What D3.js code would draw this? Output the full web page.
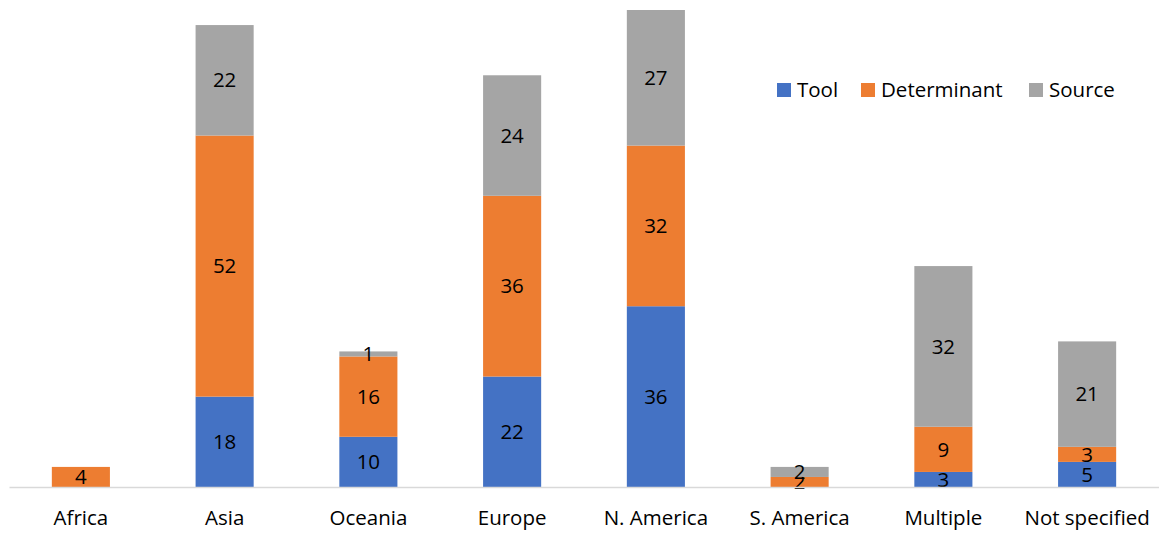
<!DOCTYPE html>
<html>
<head>
<meta charset="utf-8">
<script src="https://cdn.jsdelivr.net/npm/d3@7"></script>
<style>
  html, body { margin: 0; padding: 0; background: #fff; }
  svg { display: block; font-family: "Open Sans", Lato, "Liberation Sans", sans-serif; }
</style>
</head>
<body>
<svg id="chart" width="1159" height="535"></svg>
<script>
// Regions and counts per category
const regions = ["Africa", "Asia", "Oceania", "Europe", "N. America", "S. America", "Multiple", "Not specified"];
const seriesNames = ["Tool", "Determinant", "Source"];
const tool        = [0, 18, 10, 22, 36, 0, 3, 5];
const determinant = [4, 52, 16, 36, 32, 2, 9, 3];
const source      = [0, 22, 1, 24, 27, 2, 32, 21];
const colors = ["#4472C4", "#ED7D31", "#A5A5A5"];

const svg = d3.select("#chart");
const W = 1159;
const baseY = 487;
const fontSize = 20.5;

const x = d3.scaleBand().domain(regions).range([9, W]).paddingInner(0.596).paddingOuter(0.298);
const y = d3.scaleLinear().domain([0, 95]).range([baseY, 10]);

const rows = regions.map((r, i) => ({ region: r, Tool: tool[i], Determinant: determinant[i], Source: source[i] }));
const stack = d3.stack().keys(seriesNames)(rows);

// Stacked bars
const layers = svg.append("g").selectAll("g").data(stack).join("g")
  .attr("fill", (d, i) => colors[i]);
layers.selectAll("rect").data(d => d).join("rect")
  .attr("x", d => x(d.data.region))
  .attr("width", x.bandwidth())
  .attr("y", d => y(d[1]))
  .attr("height", d => y(d[0]) - y(d[1]));

// Value labels centered in each segment
layers.selectAll("text").data(d => d.filter(s => s[1] - s[0] > 0)).join("text")
  .attr("x", d => x(d.data.region) + x.bandwidth() / 2)
  .attr("y", d => (y(d[0]) + y(d[1])) / 2)
  .attr("dy", "0.35em")
  .attr("text-anchor", "middle")
  .attr("font-size", fontSize)
  .attr("fill", "#000")
  .text(d => d[1] - d[0]);

// Category axis
const xAxis = svg.append("g").attr("transform", `translate(0,${baseY})`)
  .call(d3.axisBottom(x).tickSize(0).tickPadding(23));
xAxis.select(".domain").attr("stroke", "#d9d9d9").attr("stroke-width", 1.5);
xAxis.selectAll("text").attr("font-size", fontSize).attr("fill", "#000")
  .style("font-family", "'Open Sans', Lato, sans-serif");

// Legend
const legendX = [777, 861, 1029];
const legend = svg.append("g").selectAll("g").data(seriesNames).join("g")
  .attr("transform", (d, i) => `translate(${legendX[i]},90)`);
legend.append("rect").attr("x", 0).attr("y", -7).attr("width", 14).attr("height", 14)
  .attr("fill", (d, i) => colors[i]);
legend.append("text").attr("x", 20).attr("dy", "0.35em")
  .attr("font-size", fontSize).attr("fill", "#000").text(d => d);
</script>
</body>
</html>
